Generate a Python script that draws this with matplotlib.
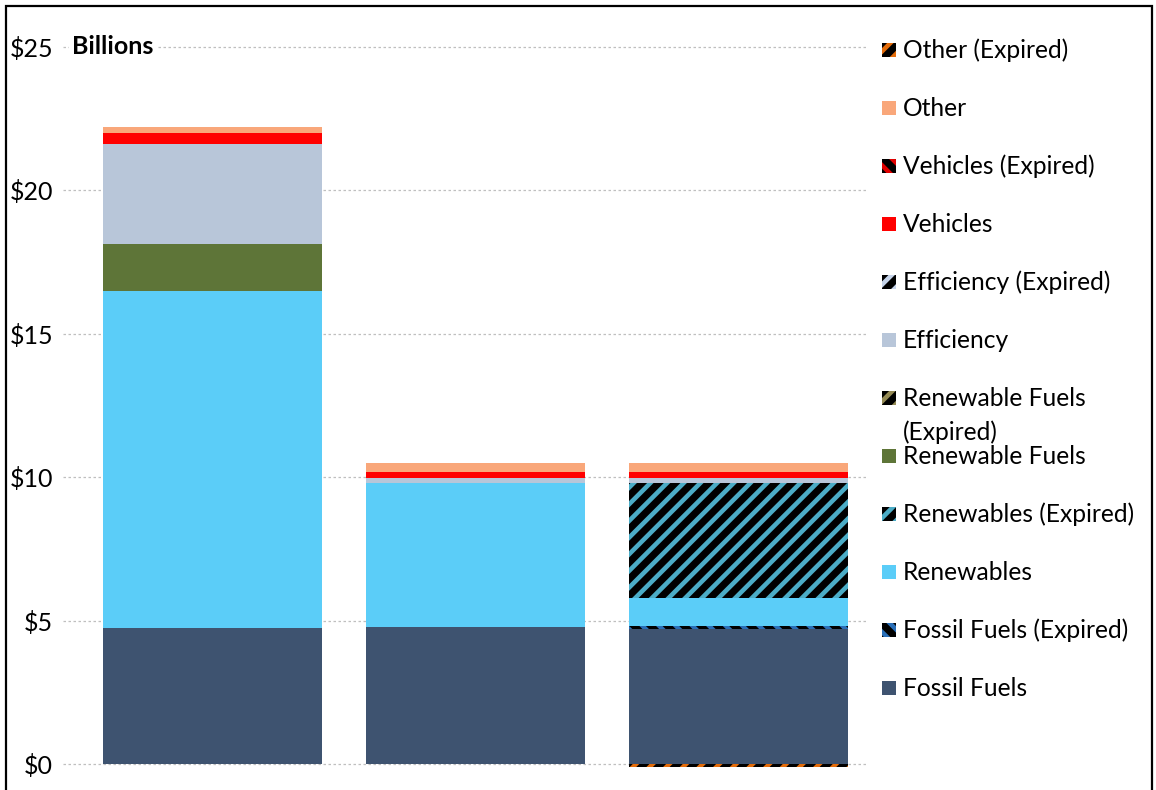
import matplotlib
matplotlib.use("Agg")
import matplotlib.pyplot as plt
from matplotlib.patches import Rectangle
import numpy as np

plt.rcParams['font.family'] = ['Lato', 'DejaVu Sans']
plt.rcParams['hatch.linewidth'] = 3.3

categories = ["Bar 1", "Bar 2", "Bar 3"]

# stacked series (bottom -> top)
series_names = ["Fossil Fuels", "Fossil Fuels (Expired)", "Renewables", "Renewables (Expired)",
                "Renewable Fuels", "Renewable Fuels (Expired)", "Efficiency", "Efficiency (Expired)",
                "Vehicles", "Vehicles (Expired)", "Other", "Other (Expired)"]
fossil = [4.74, 4.78, 4.71]
fossil_exp = [0.0, 0.0, 0.10]
renew = [11.75, 5.02, 0.98]
renew_exp = [0.0, 0.0, 4.01]
renfuel = [1.64, 0.0, 0.0]
renfuel_exp = [0.0, 0.0, 0.0]
eff = [3.49, 0.17, 0.17]
eff_exp = [0.0, 0.0, 0.0]
veh = [0.38, 0.21, 0.21]
veh_exp = [0.0, 0.0, 0.0]
other = [0.21, 0.32, 0.32]
other_exp = [0.0, 0.0, -0.10]

yticks = [0, 5, 10, 15, 20, 25]
ytick_labels = ["$0", "$5", "$10", "$15", "$20", "$25"]

series_values = [fossil, fossil_exp, renew, renew_exp, renfuel, renfuel_exp,
                 eff, eff_exp, veh, veh_exp, other, other_exp]
# style: (facecolor, hatchcolor, hatch)
styles = [
    ("#3E5370", None, None),
    ("#000000", "#2A6FB8", "\\\\"),
    ("#5BCDF8", None, None),
    ("#000000", "#4BACC6", "//"),
    ("#5E7538", None, None),
    ("#000000", "#948A54", "//"),
    ("#B8C6D9", None, None),
    ("#000000", "#C6D4EA", "//"),
    ("#FF0000", None, None),
    ("#000000", "#E00000", "\\\\"),
    ("#F9A77A", None, None),
    ("#000000", "#E46C0A", "//"),
]

W, H = 1156, 790
fig = plt.figure(figsize=(W / 100, H / 100), dpi=100)

ax_left, ax_right = 63, 868
ax_top, ax_bottom = 0, 790
ax = fig.add_axes([ax_left / W, 1 - ax_bottom / H, (ax_right - ax_left) / W, (ax_bottom - ax_top) / H])

px_per_unit = (764 - 47) / 25.0
ymin = -(790 - 764) / px_per_unit
ymax = 25 + 47 / px_per_unit
ax.set_ylim(ymin, ymax)

cat_px = 263.0
c0 = 212.5
ax.set_xlim((ax_left - c0) / cat_px, (ax_right - c0) / cat_px)

x = np.arange(len(categories))
bw = 219 / cat_px
pos_bottom = np.zeros(len(categories))
neg_bottom = np.zeros(len(categories))
for name, vals, (fc, hc, hatch) in zip(series_names, series_values, styles):
    vals = np.array(vals, dtype=float)
    bottoms = np.where(vals >= 0, pos_bottom, neg_bottom)
    if hatch:
        ax.bar(x, vals, bw, bottom=bottoms, facecolor=fc, edgecolor=hc, hatch=hatch,
               linewidth=0, zorder=3)
    else:
        ax.bar(x, vals, bw, bottom=bottoms, color=fc, linewidth=0, zorder=3)
    pos_bottom = pos_bottom + np.where(vals >= 0, vals, 0)
    neg_bottom = neg_bottom + np.where(vals < 0, vals, 0)

for s in ax.spines.values():
    s.set_visible(False)
ax.set_yticks(yticks)
ax.set_yticklabels(ytick_labels, fontsize=18)
ax.tick_params(axis='y', length=0, pad=7)
ax.set_xticks([])
ax.yaxis.grid(True, color="#BFBFBF", linestyle=(0, (2, 2)), linewidth=0.9, zorder=0)
ax.set_axisbelow(True)

fig.text(72 / W, 1 - 47 / H, "Billions", fontsize=18, fontweight='bold',
         va='center', ha='left', zorder=5,
         bbox=dict(facecolor='white', edgecolor='none', pad=2))

# legend (manual)
legend_items = list(zip(series_names, styles))[::-1]
y0 = 50
step = 58
fs = 17.7
for i, (name, (fc, hc, hatch)) in enumerate(legend_items):
    yc = y0 + i * step
    yf = 1 - yc / H
    rect = Rectangle((882 / W, yf - 7 / H), 14 / W, 14 / H, transform=fig.transFigure,
                     facecolor=fc, edgecolor=hc if hatch else fc, hatch=hatch,
                     linewidth=0)
    fig.patches.append(rect)
    if name == "Renewable Fuels (Expired)":
        fig.text(903 / W, yf, "Renewable Fuels", fontsize=fs, va='center', ha='left')
        fig.text(903 / W, 1 - (yc + 34) / H, "(Expired)", fontsize=fs, va='center', ha='left')
    else:
        fig.text(903 / W, yf, name, fontsize=fs, va='center', ha='left')

# outer border
border = Rectangle((6 / W, -0.1), (1152 - 6) / W, 1 - 6 / H + 0.1, transform=fig.transFigure,
                   fill=False, edgecolor='black', linewidth=1.6)
fig.patches.append(border)

fig.savefig("out.png", dpi=100)
